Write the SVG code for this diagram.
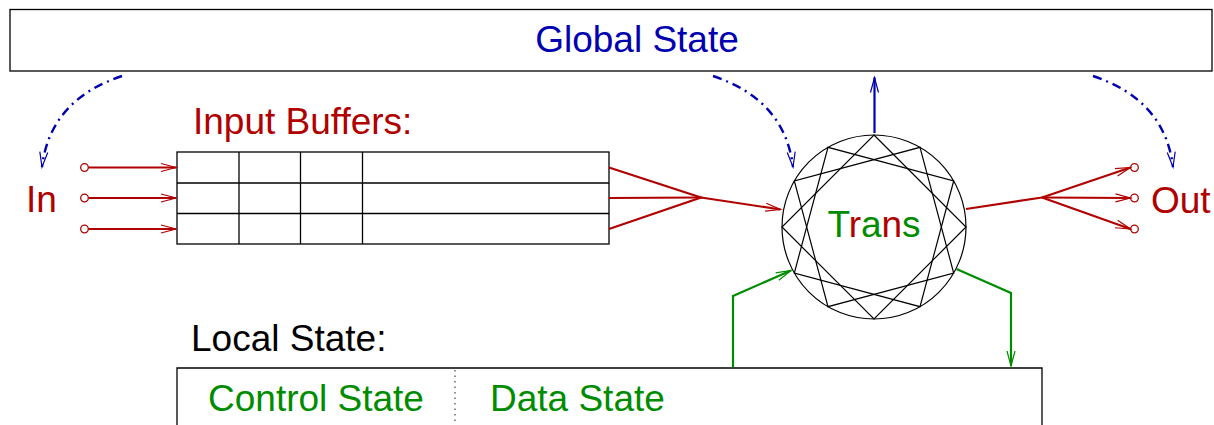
<svg xmlns="http://www.w3.org/2000/svg" width="1214" height="425" viewBox="0 0 1214 425">
<style>
text{font-family:"Liberation Sans",Arial,sans-serif;font-size:37px}
.red{fill:#b00000}
.blue{fill:#0000b0}
.green{fill:#008c00}
.blk{fill:#000}
.box{fill:none;stroke:#000;stroke-width:1.3}
.rl{fill:none;stroke:#b00000;stroke-width:2.2}
.gl{fill:none;stroke:#008c00;stroke-width:2.2}
.bl{fill:none;stroke:#0000b0;stroke-width:2.2}
.bd{fill:none;stroke:#0000b0;stroke-width:2.4;stroke-dasharray:9 5 2 5}
.port{fill:#fff;stroke:#b00000;stroke-width:1.3}
.star{fill:none;stroke:#000;stroke-width:1.2}
</style>
<defs>
<marker id="ar" markerUnits="userSpaceOnUse" markerWidth="20" markerHeight="20" orient="auto" overflow="visible"><path d="M-15,-4 L0,0 L-15,4" fill="none" stroke="#b00000" stroke-width="1.2"/></marker>
<marker id="ab" markerUnits="userSpaceOnUse" markerWidth="20" markerHeight="20" orient="auto" overflow="visible"><path d="M-15,-4 L0,0 L-15,4" fill="none" stroke="#0000b0" stroke-width="1.2"/></marker>
<marker id="ag" markerUnits="userSpaceOnUse" markerWidth="20" markerHeight="20" orient="auto" overflow="visible"><path d="M-15,-4 L0,0 L-15,4" fill="none" stroke="#008c00" stroke-width="1.2"/></marker>
</defs>

<g id="global-state">
<rect class="box" x="10" y="9.5" width="1202" height="61.5"/>
<text class="blue" x="637" y="52" text-anchor="middle">Global State</text>
</g>

<g id="input-buffers">
<text class="red" x="193" y="134">Input Buffers:</text>
<rect class="box" x="177" y="152" width="432" height="92"/>
<line class="box" x1="177" y1="183" x2="609" y2="183"/>
<line class="box" x1="177" y1="213.5" x2="609" y2="213.5"/>
<line class="box" x1="239" y1="152" x2="239" y2="244"/>
<line class="box" x1="300.5" y1="152" x2="300.5" y2="244"/>
<line class="box" x1="362.5" y1="152" x2="362.5" y2="244"/>
</g>

<g id="in">
<text class="red" x="26" y="212">In</text>
<circle class="port" cx="84.5" cy="167.5" r="3.8"/>
<circle class="port" cx="84.5" cy="198" r="3.8"/>
<circle class="port" cx="84.5" cy="229" r="3.8"/>
</g>

<g id="out">
<text class="red" x="1151" y="213">Out</text>
<circle class="port" cx="1134.5" cy="167.5" r="3.8"/>
<circle class="port" cx="1134.5" cy="198" r="3.8"/>
<circle class="port" cx="1134.5" cy="229" r="3.8"/>
</g>

<g id="trans">
<circle class="star" cx="874" cy="227" r="92"/>
<polygon class="star" points="874,135 966,227 874,319 782,227"/>
<polygon class="star" points="920,147.33 953.67,273 828,306.67 794.33,181"/>
<polygon class="star" points="953.67,181 920,306.67 794.33,273 828,147.33"/>
<text x="874" y="237" text-anchor="middle"><tspan class="green">T</tspan><tspan class="red">r</tspan><tspan class="green">a</tspan><tspan class="red">n</tspan><tspan class="green">s</tspan></text>
</g>

<g id="local-state">
<text class="blk" x="191" y="351">Local State:</text>
<path class="box" d="M177,430 V368 H1042 V430"/>
<line x1="455" y1="370" x2="455" y2="425" stroke="#555" stroke-width="1.3" stroke-dasharray="1.5 4"/>
<text class="green" x="208" y="411">Control State</text>
<text class="green" x="490" y="411">Data State</text>
</g>

<g id="connectors">
<line class="rl" x1="88.5" y1="167.5" x2="176" y2="167.5" marker-end="url(#ar)"/>
<line class="rl" x1="88.5" y1="198" x2="176" y2="198" marker-end="url(#ar)"/>
<line class="rl" x1="88.5" y1="229" x2="176" y2="229" marker-end="url(#ar)"/>
<polyline class="rl" points="609,167.5 701,197.5 609,229"/>
<line class="rl" x1="609" y1="198" x2="701" y2="197.5"/>
<line class="rl" x1="701" y1="197.5" x2="780.5" y2="209.5" marker-end="url(#ar)"/>
<line class="rl" x1="966" y1="209" x2="1042" y2="197.5"/>
<line class="rl" x1="1042" y1="197.5" x2="1130.5" y2="167.5" marker-end="url(#ar)"/>
<line class="rl" x1="1042" y1="197.5" x2="1130.5" y2="198" marker-end="url(#ar)"/>
<line class="rl" x1="1042" y1="197.5" x2="1130.5" y2="229" marker-end="url(#ar)"/>
<line class="bl" x1="874.5" y1="133" x2="874.5" y2="77.5" marker-end="url(#ab)"/>
<path class="bd" d="M122,76 Q50,100 42,167" marker-end="url(#ab)"/>
<path class="bd" d="M713,76 Q785,100 793,167" marker-end="url(#ab)"/>
<path class="bd" d="M1093,76 Q1165,100 1173,167" marker-end="url(#ab)"/>
<polyline class="gl" points="733,367 733,296 791,270.5" marker-end="url(#ag)"/>
<polyline class="gl" points="956.5,269 1011,293 1011,366" marker-end="url(#ag)"/>
</g>
</svg>
